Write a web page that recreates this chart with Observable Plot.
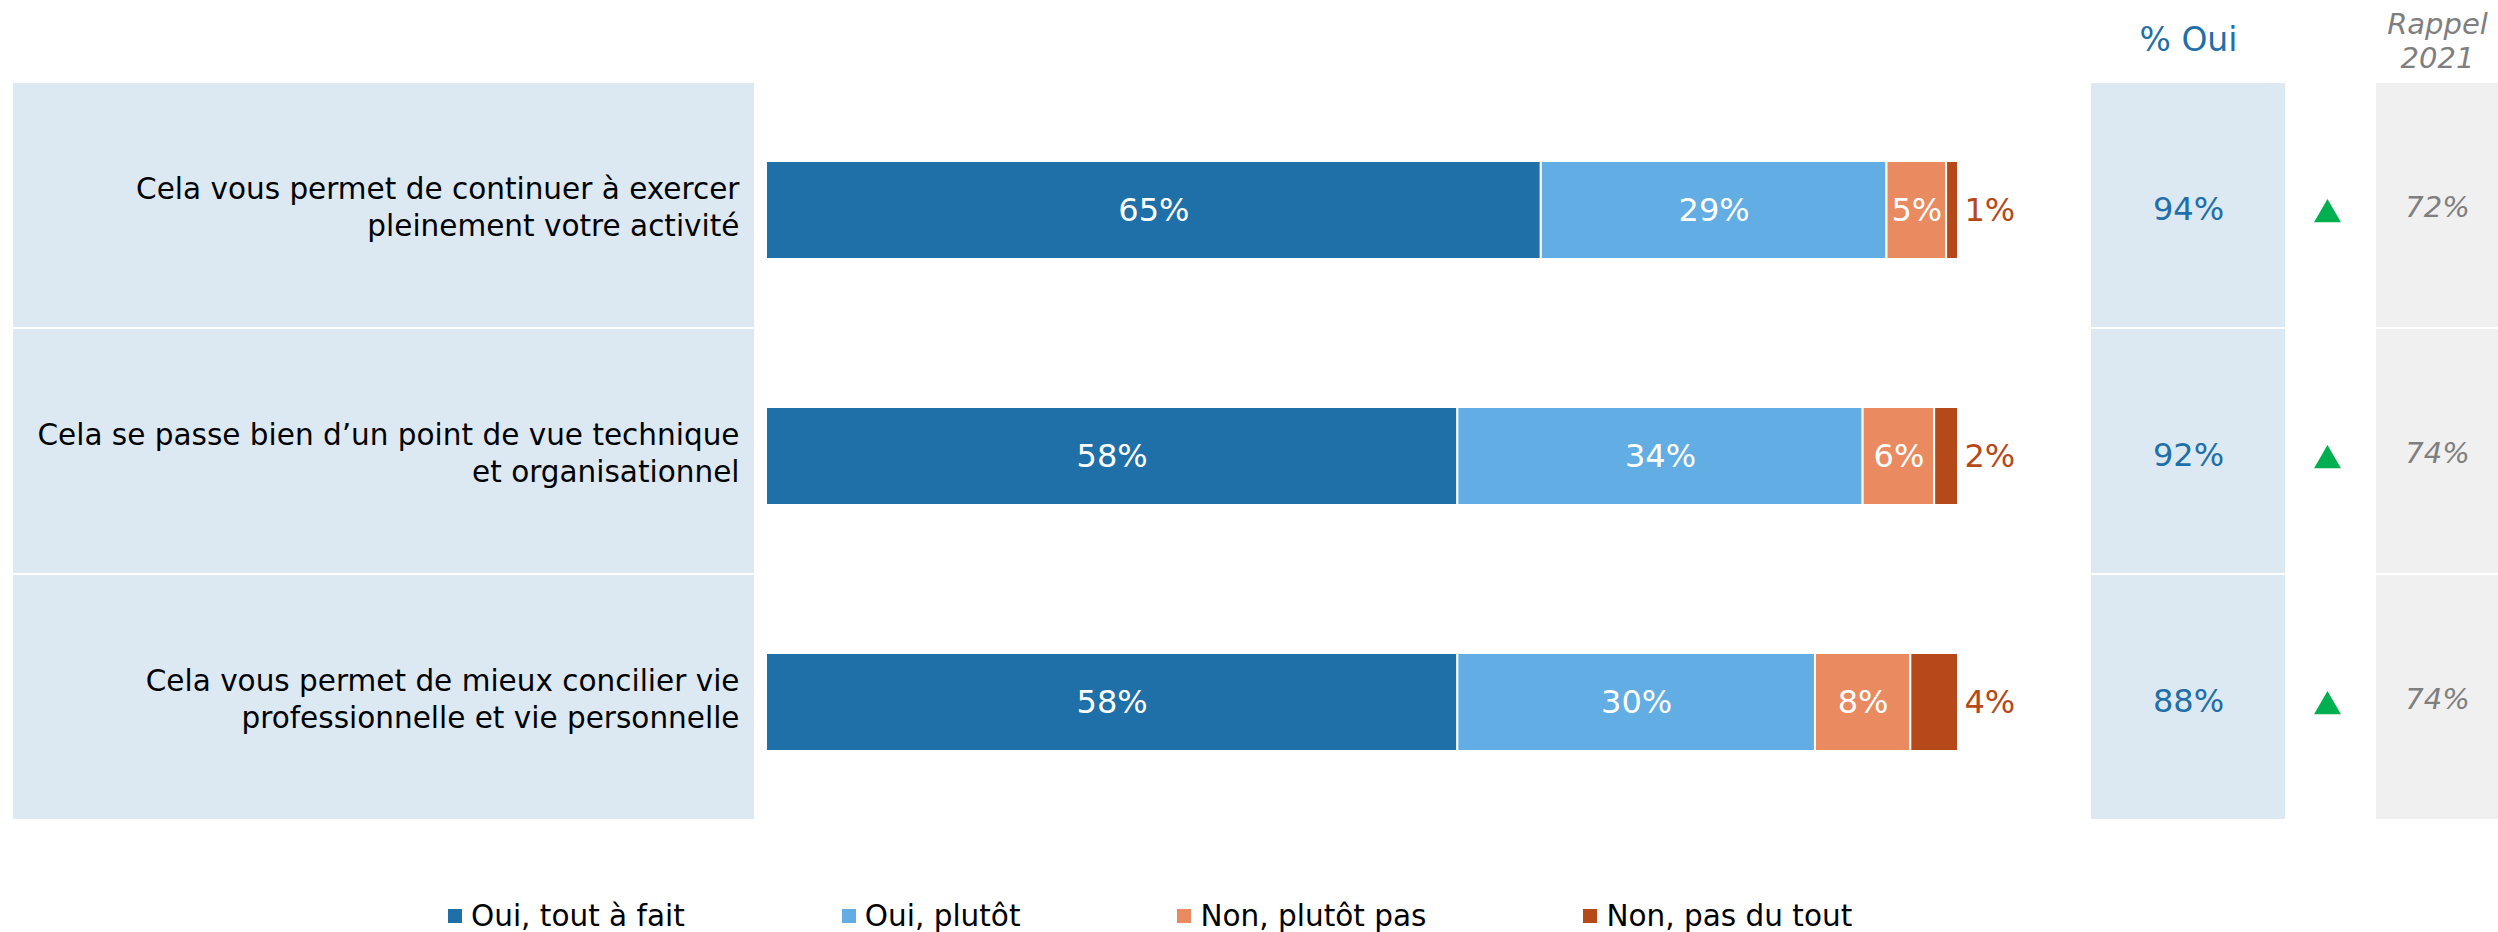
<!DOCTYPE html>
<html>
<head>
<meta charset="utf-8">
<script src="https://cdn.jsdelivr.net/npm/d3@7"></script>
<script src="https://cdn.jsdelivr.net/npm/@observablehq/plot@0.6"></script>
<style>
  html, body { margin: 0; padding: 0; background: #fff; }
  body .lg-swatch { margin-right: 157px !important; }
  body .lg-swatch > svg { margin-right: 9px !important; }
</style>
</head>
<body>
<div id="chart"></div>
<script>
// ---- data ----
const questions = [
  "Cela vous permet de continuer à exercer\npleinement votre activité",
  "Cela se passe bien d’un point de vue technique\net organisationnel",
  "Cela vous permet de mieux concilier vie\nprofessionnelle et vie personnelle"
];
const answers = ["Oui, tout à fait", "Oui, plutôt", "Non, plutôt pas", "Non, pas du tout"];
const toutAFait = [65, 58, 58];
const plutot = [29, 34, 30];
const plutotPas = [5, 6, 8];
const pasDuTout = [1, 2, 4];
const ouiTotal = [94, 92, 88];
const rappel2021 = [72, 74, 74];
const trend = ["up", "up", "up"];
const colors = ["#1F6FA8", "#62ADE4", "#E98A60", "#B5491A"];

// ---- tables built from the arrays ----
const series = [toutAFait, plutot, plutotPas, pasDuTout];
const long = [];
questions.forEach((q, i) => answers.forEach((a, j) => long.push({question: q, answer: a, value: series[j][i]})));
const summary = questions.map((q, i) => ({question: q, oui: ouiTotal[i], rappel: rappel2021[i], trend: trend[i]}));
const last = answers[answers.length - 1];

// ---- layout (pixels) ----
const W = 2498, H = 890;
const X0 = 766, X100 = 1958;               // where 0% and 100% sit
const px = p => (p - X0) / (X100 - X0) * 100; // pixel -> x units
const labelBox = [13, 754], labelRight = 739;
const ouiBox = [2091, 2285];
const arrowX = 2327;
const rappelBox = [2376, 2498];

const ff = "DejaVu Sans";

const chart = Plot.plot({
  width: W,
  height: H,
  marginTop: 0, marginBottom: 0, marginLeft: 0, marginRight: 0,
  style: {fontFamily: ff, background: "#fff", overflow: "visible"},
  x: {domain: [0, 100], range: [X0, X100], axis: null},
  y: {domain: questions, range: [82, 821], paddingInner: 0.008, paddingOuter: 0, axis: null},
  color: {domain: answers, range: colors},
  marks: [
    // background panels
    Plot.barX(summary, {x1: px(labelBox[0]), x2: px(labelBox[1]), y: "question", fill: "#DCE9F3"}),
    Plot.barX(summary, {x1: px(ouiBox[0]), x2: px(ouiBox[1]), y: "question", fill: "#DCE9F3"}),
    Plot.barX(summary, {x1: px(rappelBox[0]), x2: px(rappelBox[1]), y: "question", fill: "#F0F0F0"}),
    // category labels
    Plot.text(summary, {x: px(labelRight), y: "question", text: "question", textAnchor: "end",
      fontSize: 29.5, lineHeight: 1.26, fill: "#000", dy: 0}),
    // stacked bars
    Plot.barX(long, Plot.stackX({x: "value", y: "question", fill: "answer", z: "answer",
      stroke: "white", strokeWidth: 2, insetTop: 78, insetBottom: 68})),
    // inside labels
    Plot.text(long, Plot.stackX({x: "value", y: "question", z: "answer",
      filter: d => d.answer !== last, text: d => d.value + "%", fill: "white", fontSize: 32, dy: 5})),
    // outside label for last segment
    Plot.text(long, Plot.stackX2({x: "value", y: "question", z: "answer",
      text: d => d.answer === last ? d.value + "%" : null, fill: "#B5491A", textAnchor: "start",
      fontSize: 32, dx: 6, dy: 5})),
    // % Oui column
    Plot.text(summary, {x: px((ouiBox[0] + ouiBox[1]) / 2), y: "question", text: d => d.oui + "%",
      fill: "#1F6FA8", fontSize: 32, dy: 4}),
    Plot.text(["% Oui"], {x: px((ouiBox[0] + ouiBox[1]) / 2), frameAnchor: "top", lineAnchor: "middle", dy: 40,
      text: d => d, fill: "#1F6FA8", fontSize: 33}),
    // trend arrows
    Plot.dot(summary.filter(d => d.trend === "up"), {x: px(arrowX), y: "question", symbol: "triangle",
      r: 10, fill: "#00B050", dy: 9}),
    // Rappel 2021 column
    Plot.text(summary, {x: px((rappelBox[0] + rappelBox[1]) / 2), y: "question", text: d => d.rappel + "%",
      fill: "#7F7F7F", fontSize: 29, fontStyle: "italic", dy: 2}),
    Plot.text(["Rappel\n2021"], {x: px((rappelBox[0] + rappelBox[1]) / 2), frameAnchor: "top", lineAnchor: "middle", dy: 40,
      text: d => d, fill: "#7F7F7F", fontSize: 29, fontStyle: "italic", lineHeight: 1.17})
  ]
});

const legend = Plot.legend({
  color: {domain: answers, range: colors},
  legend: "swatches",
  swatchSize: 14,
  className: "lg",
  style: {fontFamily: ff, fontSize: "29.5px", color: "#000", marginLeft: "448px", marginTop: "9px",
    minHeight: "34px", lineHeight: "34px"}
});

const root = document.getElementById("chart");
root.appendChild(chart);
root.appendChild(legend);
</script>
</body>
</html>
